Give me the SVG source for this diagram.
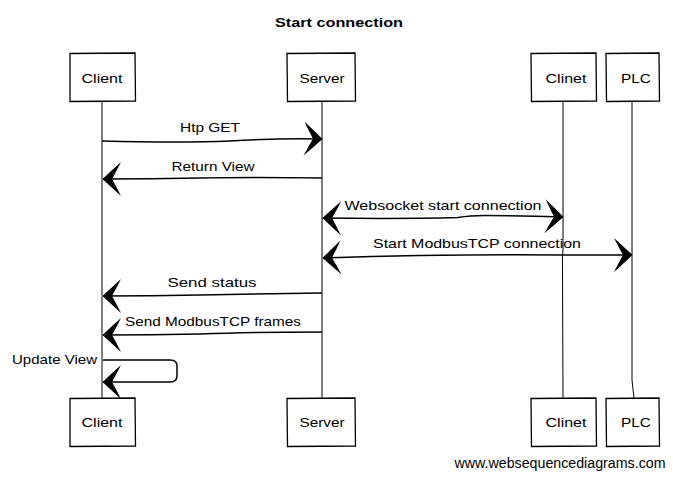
<svg xmlns="http://www.w3.org/2000/svg" width="673" height="479" viewBox="0 0 673 479">
<style>
text{font-family:"Liberation Sans",Arial,sans-serif;fill:#000}
.t{font-size:13px;text-anchor:middle}
.lbl{font-size:13px;text-anchor:middle}
.box{fill:#fff;stroke:#000;stroke-width:1.3}
.life{fill:none;stroke:#000;stroke-width:1}
.msg{fill:none;stroke:#000;stroke-width:1.5}
</style>
<defs>
<marker id="ah" viewBox="-20 -19 22 38" markerWidth="22" markerHeight="38" refX="0" refY="0" orient="auto-start-reverse" markerUnits="userSpaceOnUse">
<path d="M0.5,0 Q-8,-8 -18,-17 Q-13,-7 -9,0 Q-13,7 -18,17 Q-8,8 0.5,0 Z" fill="#000"/>
</marker>
</defs>
<rect width="673" height="479" fill="#fff"/>
<text x="339" y="27" style="font-family:'Liberation Sans',Arial,sans-serif;font-size:13px;font-weight:bold;text-anchor:middle" textLength="128" lengthAdjust="spacingAndGlyphs">Start connection</text>
<g id="lifelines">
<path class="life" d="M102,101 L102,398"/>
<path class="life" d="M322,101 L322,398"/>
<path class="life" d="M563,101 L563,250 Q562,258 562.5,270 L563,398"/>
<path class="life" d="M632,101 L632,380 Q633,390 634,398"/>
</g>
<g id="node-client-top"><path class="box" d="M70,53.5 L135,53 L135.5,101 L70,101.5 Z"/><text class="t" x="102" y="83" textLength="41" lengthAdjust="spacingAndGlyphs">Client</text></g>
<g id="node-server-top"><path class="box" d="M287,53.5 L355,53 L355.5,101 L287.5,101.5 Z"/><text class="t" x="322" y="83" textLength="45" lengthAdjust="spacingAndGlyphs">Server</text></g>
<g id="node-clinet-top"><path class="box" d="M531,53.5 L596,53 L596.5,101 L531.5,101.5 Z"/><text class="t" x="566" y="83" textLength="41" lengthAdjust="spacingAndGlyphs">Clinet</text></g>
<g id="node-plc-top"><path class="box" d="M606,53.5 L659,53 L659.5,101 L606.5,101.5 Z"/><text class="t" x="636" y="83" textLength="30" lengthAdjust="spacingAndGlyphs">PLC</text></g>
<g id="node-client-bottom"><path class="box" d="M70,398.5 L135,398 L135.5,446 L70,446.5 Z"/><text class="t" x="102" y="427" textLength="41" lengthAdjust="spacingAndGlyphs">Client</text></g>
<g id="node-server-bottom"><path class="box" d="M287,398.5 L355,398 L355.5,446 L287.5,446.5 Z"/><text class="t" x="322" y="427" textLength="45" lengthAdjust="spacingAndGlyphs">Server</text></g>
<g id="node-clinet-bottom"><path class="box" d="M531,398.5 L596,398 L596.5,446 L531.5,446.5 Z"/><text class="t" x="566" y="427" textLength="41" lengthAdjust="spacingAndGlyphs">Clinet</text></g>
<g id="node-plc-bottom"><path class="box" d="M606,398.5 L659,398 L659.5,446 L606.5,446.5 Z"/><text class="t" x="636" y="427" textLength="30" lengthAdjust="spacingAndGlyphs">PLC</text></g>
<g id="connectors">
<path class="msg" d="M102,141 Q180,143 230,141 Q280,138 322,139" marker-end="url(#ah)"/>
<path class="msg" d="M322,178 Q250,177 200,178 Q150,179 103,179" marker-end="url(#ah)"/>
<path class="msg" d="M323,218 Q400,219 458,217.5 Q470,215.5 485,215.5 Q525,215.5 563,217" marker-start="url(#ah)" marker-end="url(#ah)"/>
<path class="msg" d="M323,258 Q450,254 560,255 Q600,255 632,255" marker-start="url(#ah)" marker-end="url(#ah)"/>
<path class="msg" d="M322,293 Q250,294 200,295 Q150,296 103,296" marker-end="url(#ah)"/>
<path class="msg" d="M322,332 Q250,332 200,334 Q150,335 103,335" marker-end="url(#ah)"/>
<path class="msg" d="M103,360 L170,360 Q177,360 177,366 L177,376 Q177,382 170,382 L103,382" marker-end="url(#ah)"/>
</g>
<g id="labels">
<text class="lbl" x="210" y="132" textLength="60" lengthAdjust="spacingAndGlyphs">Htp GET</text>
<text class="lbl" x="213" y="171" textLength="83" lengthAdjust="spacingAndGlyphs">Return View</text>
<text class="lbl" x="443" y="210" textLength="197" lengthAdjust="spacingAndGlyphs">Websocket start connection</text>
<text class="lbl" x="477" y="248" textLength="208" lengthAdjust="spacingAndGlyphs">Start ModbusTCP connection</text>
<text class="lbl" x="212" y="287" textLength="89" lengthAdjust="spacingAndGlyphs">Send status</text>
<text class="lbl" x="213" y="326" textLength="176" lengthAdjust="spacingAndGlyphs">Send ModbusTCP frames</text>
<text class="lbl" x="54.5" y="364" textLength="85" lengthAdjust="spacingAndGlyphs">Update View</text>
</g>
<text x="560" y="468" style="font-family:'Liberation Sans',Arial,sans-serif;font-size:14px;text-anchor:middle" textLength="211" lengthAdjust="spacingAndGlyphs">www.websequencediagrams.com</text>
</svg>
